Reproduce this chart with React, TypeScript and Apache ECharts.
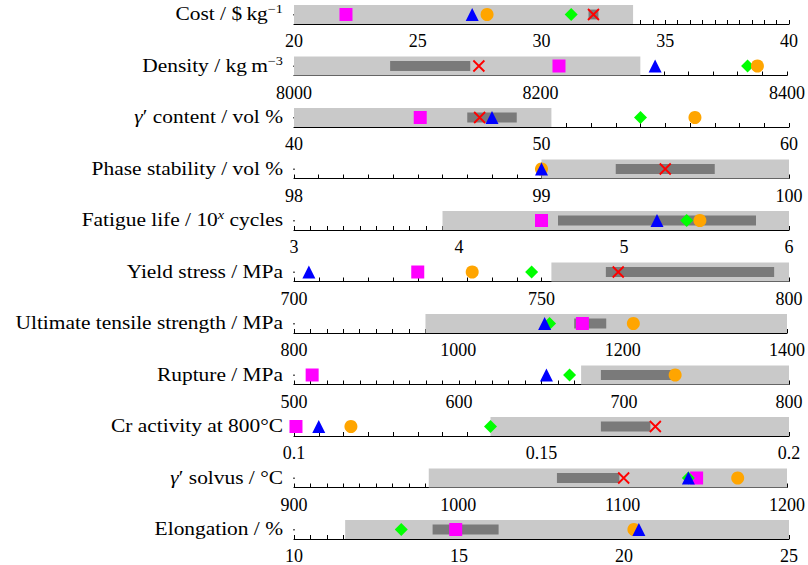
import React, { useEffect, useRef } from 'react';
import * as echarts from 'echarts';

// Property rows, top to bottom
const rowLabels = [
  'Cost / $\u2009kg{sup|\u22121}',
  'Density / kg\u2009m{sup|\u22123}',
  '{i|\u03b3}\u2032 content / vol %',
  'Phase stability / vol %',
  'Fatigue life / 10{supi|x} cycles',
  'Yield stress / MPa',
  'Ultimate tensile strength / MPa',
  'Rupture / MPa',
  'Cr activity at 800\u00b0C',
  '{i|\u03b3}\u2032 solvus / \u00b0C',
  'Elongation / %',
];

// Axis extents and labelled tick spacing
const axisMin = [20, 8000, 40, 98, 3, 700, 800, 500, 0.1, 900, 10];
const axisMax = [40, 8400, 60, 100, 6, 800, 1400, 800, 0.2, 1200, 25];
const axisStep = [5, 200, 10, 1, 1, 50, 200, 100, 0.05, 100, 5];

// Target window (light band)
const targetLow = [20, 8000, 40, 99, 3.9, 752, 960, 674, 0.1397, 982, 11.55];
const targetHigh = [33.7, 8281, 50.4, 100, 6, 800, 1400, 800, 0.2, 1200, 25];

// Predicted range (dark band)
const rangeLow = [31.9, 8078, 47.0, 99.3, 4.6, 763, 1141, 686, 0.162, 1060, 14.2];
const rangeHigh = [32.3, 8143, 49.0, 99.7, 5.8, 797, 1180, 731, 0.172, 1098, 16.2];

// Alloy values per row
const squareVals: (number | null)[] = [22.1, 8215, 45.1, null, 4.5, 725, 1151, 511, 0.1004, 1145, 14.9];
const crossVals: (number | null)[] = [32.1, 8150, 47.5, 99.5, null, 765.5, null, null, 0.173, 1100.6, null];
const diamondVals = [31.2, 8368, 54.0, 99.0, 5.38, 748, 1111, 667, 0.1397, 1140, 13.25];
const circleVals = [27.8, 8376, 56.2, 99.0, 5.46, 736, 1213, 731, 0.1115, 1170, 20.3];
const triangleVals = [27.2, 8293, 48.0, 99.0, 5.2, 703, 1105, 653, 0.105, 1140, 20.45];

const FONT = '"Liberation Serif", "Times New Roman", serif';
const LIGHT = '#c9c9c9';
const DARK = '#7a7a7a';
const PLOT_LEFT = 294;
const PLOT_RIGHT = 789;
const FIRST_AXIS_Y = 24;
const ROW_STEP = 51.5;
const BAND_H = 19;
const LABEL_STRETCH = 1.19;

const markerKinds = [
  { values: squareVals, symbol: 'rect', size: 13, style: { color: '#ff00ff' } },
  {
    values: crossVals,
    symbol: 'path://M0,0L10,10M10,0L0,10',
    size: 11,
    style: { color: 'none', borderColor: '#ff0000', borderWidth: 1.8 },
  },
  { values: diamondVals, symbol: 'diamond', size: 13, style: { color: '#00ff00' } },
  { values: circleVals, symbol: 'circle', size: 13, style: { color: '#ffa500' } },
  { values: triangleVals, symbol: 'triangle', size: 13, style: { color: '#0000ff' } },
];

export default function App() {
  const ref = useRef<HTMLDivElement>(null);

  useEffect(() => {
    const chart = echarts.init(ref.current!, null, { renderer: 'svg' });
    const n = rowLabels.length;
    const grids: any[] = [];
    const xAxes: any[] = [];
    const yAxes: any[] = [];
    const series: any[] = [];
    const graphics: any[] = [];

    for (let i = 0; i < n; i++) {
      const axisY = FIRST_AXIS_Y + i * ROW_STEP;
      grids.push({
        left: PLOT_LEFT,
        width: PLOT_RIGHT - PLOT_LEFT,
        top: axisY - BAND_H,
        height: BAND_H,
      });
      xAxes.push({
        gridIndex: i,
        type: 'value',
        min: axisMin[i],
        max: axisMax[i],
        interval: axisStep[i],
        axisLine: { show: true, onZero: false, lineStyle: { color: '#000', width: 1.2 } },
        axisTick: { show: true, inside: true, length: 4, lineStyle: { color: '#000', width: 1 } },
        minorTick: { show: true, splitNumber: 10, length: 4, lineStyle: { color: '#000', width: 1 } },
        splitLine: { show: false },
        minorSplitLine: { show: false },
        axisLabel: {
          margin: 8,
          fontFamily: FONT,
          fontSize: 18,
          color: '#000',
          showMinLabel: true,
          showMaxLabel: true,
          formatter: (v: number) => String(parseFloat(v.toFixed(6))),
        },
      });
      yAxes.push({ gridIndex: i, type: 'value', min: 0, max: 1, show: false });

      series.push({
        type: 'scatter',
        xAxisIndex: i,
        yAxisIndex: i,
        data: [],
        silent: true,
        z: 1,
        markArea: {
          silent: true,
          label: { show: false },
          data: [
            [{ xAxis: targetLow[i], itemStyle: { color: LIGHT } }, { xAxis: targetHigh[i] }],
            [
              { xAxis: rangeLow[i], yAxis: 0.24, itemStyle: { color: DARK } },
              { xAxis: rangeHigh[i], yAxis: 0.76 },
            ],
          ],
        },
      });

      markerKinds.forEach((k, j) => {
        const v = k.values[i];
        if (v === null || v === undefined) return;
        series.push({
          type: 'scatter',
          xAxisIndex: i,
          yAxisIndex: i,
          z: 3 + j,
          silent: true,
          symbol: k.symbol,
          symbolSize: k.size,
          itemStyle: { ...k.style, opacity: 1 },
          emphasis: { disabled: true },
          data: [[v, 0.5]],
        });
      });

      graphics.push({
        type: 'text',
        silent: true,
        x: 283,
        y: axisY - 10,
        scaleX: LABEL_STRETCH,
        style: {
          text: rowLabels[i],
          x: 0,
          y: 0,
          align: 'right',
          verticalAlign: 'middle',
          fontFamily: FONT,
          fontSize: 18,
          lineHeight: 22,
          fill: '#000',
          rich: {
            sup: { fontFamily: FONT, fontSize: 12, verticalAlign: 'top', lineHeight: 12 },
            supi: { fontFamily: FONT, fontSize: 12, fontStyle: 'italic', verticalAlign: 'top', lineHeight: 12 },
            i: { fontFamily: FONT, fontSize: 18, fontStyle: 'italic', lineHeight: 22 },
          },
        },
      });
      // small mark at the left end of each axis
      graphics.push({
        type: 'rect',
        silent: true,
        shape: { x: PLOT_LEFT - 0.6, y: axisY - 10, width: 1.2, height: 1.4 },
        style: { fill: '#000' },
      });
    }

    chart.setOption({
      animation: false,
      grid: grids,
      xAxis: xAxes,
      yAxis: yAxes,
      series,
      graphic: graphics,
    });

    return () => chart.dispose();
  }, []);

  return (
    <div
      ref={ref}
      style={{ position: 'fixed', left: 0, top: 0, width: 808, height: 565, background: '#fff' }}
    />
  );
}
